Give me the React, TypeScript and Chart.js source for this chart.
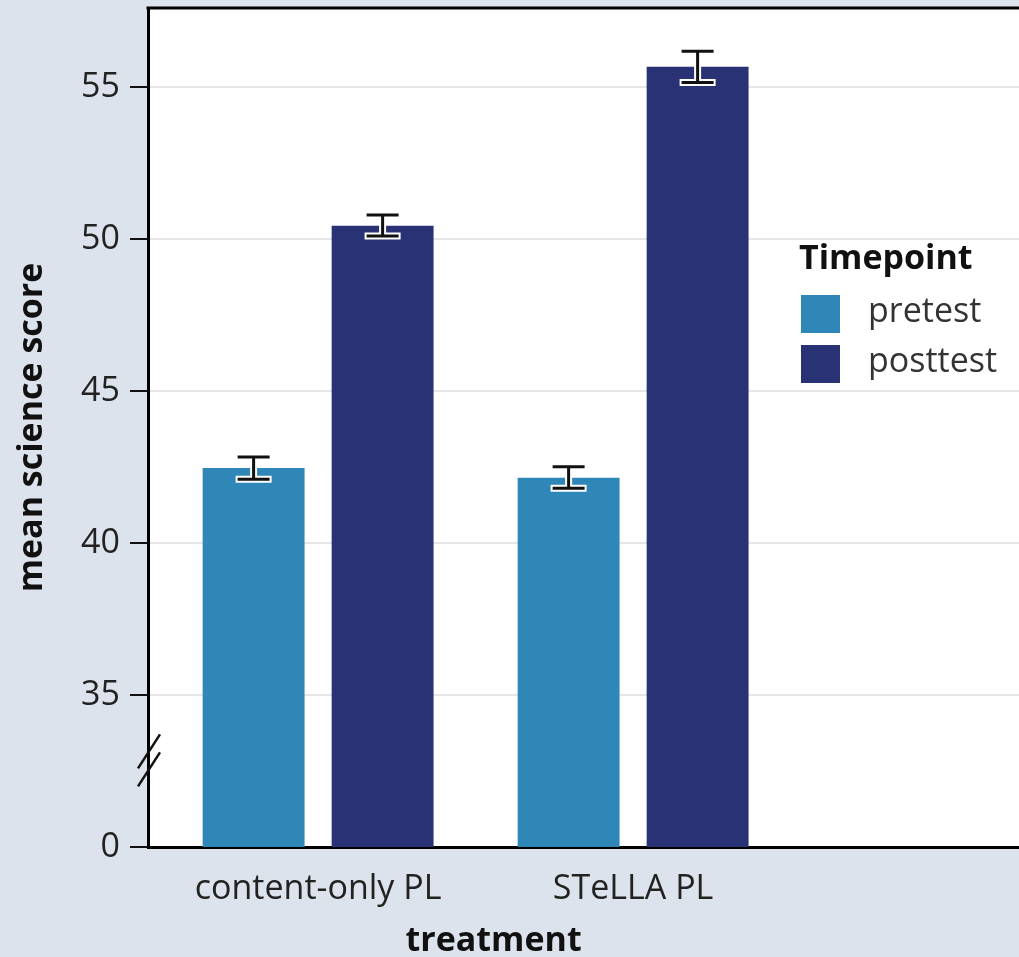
import React, { useEffect, useRef } from "react";
import { Chart, registerables } from "chart.js";

Chart.register(...registerables);

const categories = ["content-only PL", "STeLLA PL"];
const seriesNames = ["pretest", "posttest"];
const pretestMeans = [42.47, 42.15];
const posttestMeans = [50.44, 55.67];
const pretestLow = [42.1, 41.8];
const pretestHigh = [42.83, 42.51];
const posttestLow = [50.1, 55.15];
const posttestHigh = [50.79, 56.18];
const yTickValues = [30, 35, 40, 45, 50, 55];
const yTickLabels = ["0", "35", "40", "45", "50", "55"];
const legendTitle = "Timepoint";
const xTitle = "treatment";
const yTitle = "mean science score";

const COLORS = ["#2e87b7", "#283275"];
const BG = "#dde3ec";
const FONT = "'Open Sans', 'DejaVu Sans', sans-serif";

const errLow = [pretestLow, posttestLow];
const errHigh = [pretestHigh, posttestHigh];

const decorPlugin = {
  id: "decor",
  beforeDraw(chart: any) {
    const { ctx, chartArea } = chart;
    ctx.save();
    ctx.fillStyle = "#ffffff";
    ctx.fillRect(chartArea.left, chartArea.top, chartArea.right - chartArea.left, chartArea.bottom - chartArea.top);
    ctx.restore();
  },
  afterDatasetsDraw(chart: any) {
    const { ctx } = chart;
    const yScale = chart.scales.y;
    const cap = 16;
    chart.data.datasets.forEach((_: any, i: number) => {
      const meta = chart.getDatasetMeta(i);
      meta.data.forEach((el: any, j: number) => {
        const x = el.x;
        const yT = yScale.getPixelForValue(errHigh[i][j]);
        const yB = yScale.getPixelForValue(errLow[i][j]);
        const draw = (color: string, w: number, ext: number) => {
          ctx.strokeStyle = color;
          ctx.lineWidth = w;
          ctx.lineCap = "butt";
          ctx.beginPath();
          ctx.moveTo(x, yT);
          ctx.lineTo(x, yB);
          ctx.moveTo(x - cap - ext, yT);
          ctx.lineTo(x + cap + ext, yT);
          ctx.moveTo(x - cap - ext, yB);
          ctx.lineTo(x + cap + ext, yB);
          ctx.stroke();
        };
        ctx.save();
        draw("#ffffff", 7, 2);
        draw("#111111", 3, 0);
        ctx.restore();
      });
    });
  },
  afterDraw(chart: any) {
    const { ctx, chartArea } = chart;
    const yScale = chart.scales.y;
    const xScale = chart.scales.x;
    ctx.save();
    // top border
    ctx.strokeStyle = "#000";
    ctx.lineWidth = 3;
    ctx.beginPath();
    ctx.moveTo(chartArea.left - 1.5, chartArea.top);
    ctx.lineTo(chartArea.right, chartArea.top);
    ctx.stroke();
    // axis break marks
    const yMid = yScale.getPixelForValue(32.85);
    const x0 = chartArea.left;
    ctx.lineWidth = 2.5;
    ctx.strokeStyle = "#111";
    [-9, 9].forEach((off) => {
      ctx.beginPath();
      ctx.moveTo(x0 - 10, yMid + off + 17);
      ctx.lineTo(x0 + 12, yMid + off - 17);
      ctx.stroke();
    });
    // x-axis title
    ctx.fillStyle = "#111";
    ctx.font = `bold 34px ${FONT}`;
    ctx.textAlign = "center";
    ctx.textBaseline = "middle";
    const xc = (xScale.getPixelForValue(1) + xScale.getPixelForValue(2)) / 2 + 18;
    ctx.fillText(xTitle, xc, 941);
    // legend
    const lx = 801;
    ctx.textAlign = "left";
    ctx.fillText(legendTitle, 799, 259);
    chart.data.datasets.forEach((ds: any, i: number) => {
      const top = 295 + i * 50;
      ctx.fillStyle = ds.backgroundColor;
      ctx.fillRect(lx, top, 39, 38);
      ctx.fillStyle = "#333";
      ctx.font = `34px ${FONT}`;
      ctx.fillText(ds.label, 868, top + 17);
    });
    ctx.restore();
  },
};

export default function App() {
  const ref = useRef<HTMLCanvasElement>(null);
  useEffect(() => {
    const canvas = ref.current!;
    const chart = new Chart(canvas, {
      type: "bar",
      data: {
        datasets: [
          {
            label: seriesNames[0],
            data: categories.map((_, i) => ({ x: i + 1, y: pretestMeans[i] })),
            backgroundColor: COLORS[0],
          },
          {
            label: seriesNames[1],
            data: categories.map((_, i) => ({ x: i + 1, y: posttestMeans[i] })),
            backgroundColor: COLORS[1],
          },
        ],
      },
      options: {
        animation: false,
        responsive: false,
        maintainAspectRatio: false,
        layout: { padding: { top: 8, right: 0, left: 0, bottom: 0 } },
        datasets: { bar: { categoryPercentage: 0.819, barPercentage: 0.79 } },
        plugins: { legend: { display: false }, tooltip: { enabled: false } },
        scales: {
          x: {
            type: "linear",
            offset: false,
            min: 0.46,
            max: 3.225,
            afterBuildTicks: (s: any) => {
              s.ticks = categories.map((_, i) => ({ value: i + 1 }));
            },
            afterFit: (s: any) => {
              s.height = 110;
              s.paddingLeft = 0;
              s.paddingRight = 0;
            },
            ticks: {
              callback: (v: any) => categories[Number(v) - 1] ?? "",
              font: { family: FONT, size: 34 },
              color: "#222",
              padding: 22,
              maxRotation: 0,
              autoSkip: false,
            },
            grid: { display: true, drawOnChartArea: false, drawTicks: false },
            border: { display: true, color: "#000", width: 3 },
            title: { display: false },
          },
          y: {
            type: "linear",
            min: 30,
            max: 57.6,
            afterBuildTicks: (s: any) => {
              s.ticks = yTickValues.map((v) => ({ value: v }));
            },
            afterFit: (s: any) => {
              s.width = 148;
              s.paddingTop = 0;
              s.paddingBottom = 0;
            },
            ticks: {
              callback: (v: any) => yTickLabels[yTickValues.indexOf(Number(v))] ?? "",
              font: { family: FONT, size: 34 },
              color: "#222",
              padding: 10,
            },
            grid: {
              color: (c: any) => (c.tick && c.tick.value === 30 ? "rgba(0,0,0,0)" : "#e6e6e6"),
              lineWidth: 2,
              tickColor: "#111",
              tickLength: 18,
              tickWidth: 2,
            },
            border: { display: true, color: "#000", width: 3 },
            title: {
              display: true,
              text: yTitle,
              font: { family: FONT, size: 34, weight: "bold" },
              color: "#111",
              padding: { top: 12, bottom: 0 },
            },
          },
        },
      },
      plugins: [decorPlugin],
    });
    return () => chart.destroy();
  }, []);
  return (
    <div style={{ position: "fixed", left: 0, top: 0, width: 1019, height: 957, background: BG, overflow: "hidden" }}>
      <canvas ref={ref} width={1019} height={957} style={{ display: "block", width: 1019, height: 957 }} />
    </div>
  );
}
